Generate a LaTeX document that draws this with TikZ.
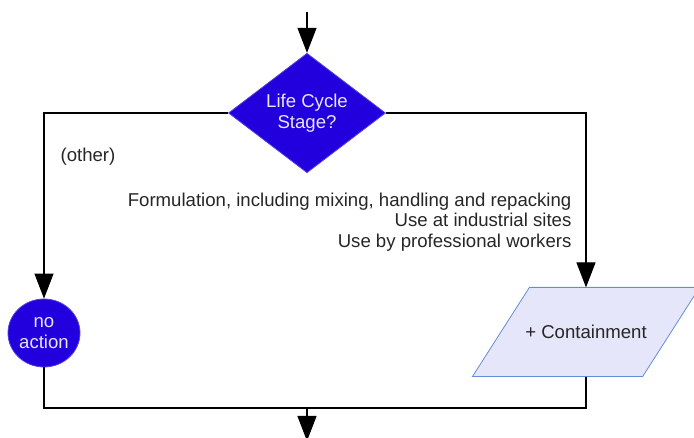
\documentclass[tikz,border=0pt]{standalone}
\usepackage{fontspec}
\setmainfont{Liberation Sans}
\usetikzlibrary{arrows.meta}
\usetikzlibrary{shapes.geometric}
\usetikzlibrary{backgrounds}

\definecolor{stageblue}{RGB}{34,0,221}
\definecolor{paleblue}{RGB}{230,230,250}
\definecolor{edgeblue}{RGB}{100,140,215}

\begin{document}
\begin{tikzpicture}[->,>={Triangle[length=25pt,width=19pt]},x=1pt,y=-1pt,line width=1.2pt,
  font=\fontsize{18.6}{20.5}\selectfont,
  decision/.style={diamond,draw=stageblue!75!white,fill=stageblue,text=paleblue,align=center,
    minimum width=157pt,minimum height=117pt,inner sep=0pt,line width=0.8pt},
  terminal/.style={ellipse,draw=stageblue!75!white,fill=stageblue,text=paleblue,align=center,
    minimum width=72pt,minimum height=68pt,inner sep=0pt,line width=0.8pt},
  io/.style={rectangle,text=black!85,minimum width=169pt,minimum height=88pt,inner sep=0pt},
  ioframe/.style={-,draw=edgeblue,fill=paleblue,line width=0.8pt},
  note/.style={inner sep=0pt,align=right,text=black!85},
  elbow/.style={to path={-| (\tikztotarget)}},
  joinup/.style={-,to path={|- (\tikztotarget)}}]
\useasboundingbox (0,0) rectangle (694,438);

\node[decision] (stage) at (307,113) {Life Cycle\\Stage?};
\node[terminal] (noact) at (44,333) {no\\action};
\node[io] (contain) at (586,332) {+ Containment};
\begin{scope}[on background layer]
  \draw[ioframe] ([xshift=-28.5pt]contain.south west) -- ([xshift=28.5pt]contain.north west)
    -- ([xshift=28.5pt]contain.north east) -- ([xshift=-28.5pt]contain.south east) -- cycle;
\end{scope}
\coordinate (entry) at (307,12);
\coordinate (merge) at (307,408);
\coordinate (exit) at (307,441);

\node[note,anchor=west] (other) at (60,157) {(other)};
\node[note,anchor=east] (uses) at (572,222) {Formulation, including mixing, handling and repacking\\Use at industrial sites\\Use by professional workers};

\path (entry) edge (stage)
      (stage) edge[elbow] (noact)
              edge[elbow] (contain)
      (noact) edge[joinup] (merge)
      (contain) edge[joinup] (merge)
      (merge) edge (exit);
\end{tikzpicture}
\end{document}
